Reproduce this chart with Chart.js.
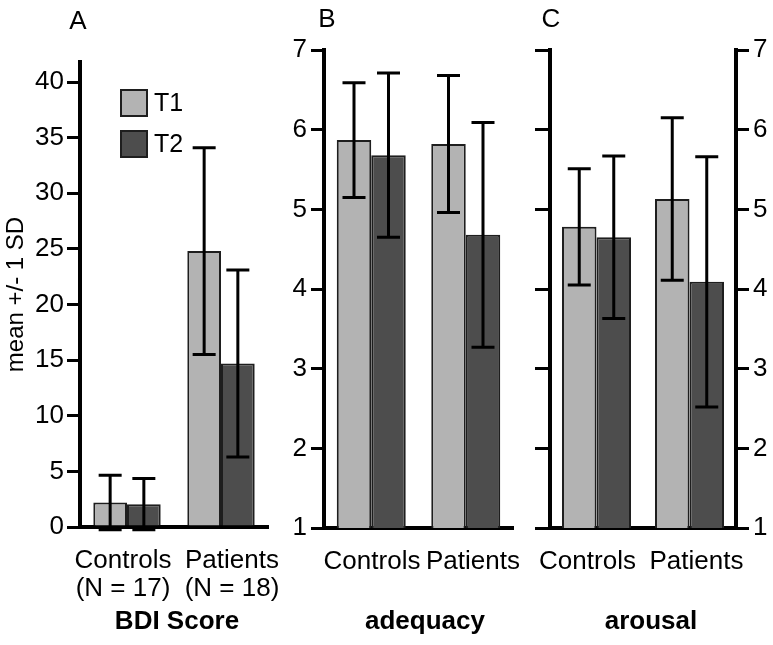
<!DOCTYPE html>
<html>
<head>
<meta charset="utf-8">
<script src="https://cdn.jsdelivr.net/npm/chart.js@4"></script>
<style>
  body { margin:0; background:#fff; width:773px; height:645px; position:relative; overflow:hidden; }
  canvas { position:absolute; top:0; }
</style>
</head>
<body>
<canvas id="chartA" width="282" height="645" style="left:0"></canvas>
<canvas id="chartB" width="258" height="645" style="left:282px"></canvas>
<canvas id="chartC" width="248" height="645" style="left:525px"></canvas>
<script>
// --- data ---
const seriesNames = ['T1', 'T2'];
const groupsBDI = [['Controls', '(N = 17)'], ['Patients', '(N = 18)']];
const groups = ['Controls', 'Patients'];

// BDI score, mean and SD
const bdiT1 = [2.2, 24.8];
const bdiT1Sd = [2.45, 9.3];
const bdiT2 = [2.05, 14.7];
const bdiT2Sd = [2.3, 8.4];

// adequacy
const adeqT1 = [5.87, 5.82];
const adeqT1Sd = [0.72, 0.86];
const adeqT2 = [5.68, 4.68];
const adeqT2Sd = [1.03, 1.41];

// arousal
const arouT1 = [4.78, 5.13];
const arouT1Sd = [0.73, 1.02];
const arouT2 = [4.65, 4.09];
const arouT2Sd = [1.02, 1.57];

const bdiRange = [0, 41.8], bdiStep = 5;
const ratingRange = [1, 7], ratingStep = 1;

// --- look ---
const FONT = "'Liberation Sans', Arial, Helvetica, sans-serif";
const colT1 = '#b3b3b3';
const colT2 = '#4d4d4d';
const edge = '#1e1e1e';
Chart.defaults.font.family = FONT;
Chart.defaults.color = '#000';

// error bars (+/- 1 SD) drawn through the y scale
const errorBars = {
  id: 'errorBars',
  afterDatasetsDraw(chart) {
    const ctx = chart.ctx, y = chart.scales.y;
    ctx.save();
    ctx.strokeStyle = '#000';
    ctx.lineWidth = 3;
    chart.data.datasets.forEach((ds, i) => {
      chart.getDatasetMeta(i).data.forEach((bar, j) => {
        const hi = y.getPixelForValue(ds.data[j] + ds.sd[j]);
        const lo = y.getPixelForValue(ds.data[j] - ds.sd[j]);
        const x = bar.x, w = 11.5;
        ctx.beginPath();
        ctx.moveTo(x, hi); ctx.lineTo(x, lo);
        ctx.moveTo(x - w, hi); ctx.lineTo(x + w, hi);
        ctx.moveTo(x - w, lo); ctx.lineTo(x + w, lo);
        ctx.stroke();
      });
    });
    ctx.restore();
  }
};

// panel letter, bold bottom title and (panel A) legend
const panelText = {
  id: 'panelText',
  afterDraw(chart, args, o) {
    const ctx = chart.ctx;
    ctx.save();
    ctx.fillStyle = '#000';
    ctx.textAlign = 'center';
    ctx.textBaseline = 'middle';
    ctx.font = `26px ${FONT}`;
    ctx.fillText(o.letter, o.letterX, o.letterY);
    ctx.font = `bold 26px ${FONT}`;
    ctx.fillText(o.title, o.titleX, o.titleY);
    if (o.legend) {
      ctx.font = `25px ${FONT}`;
      ctx.textAlign = 'left';
      chart.data.datasets.forEach((ds, i) => {
        const bx = o.legend.x, by = o.legend.y + i * 41;
        ctx.fillStyle = ds.backgroundColor;
        ctx.fillRect(bx, by, 26, 26);
        ctx.strokeStyle = edge; ctx.lineWidth = 2;
        ctx.strokeRect(bx, by, 26, 26);
        ctx.fillStyle = '#000';
        ctx.fillText(ds.label, bx + 33, by + 14);
      });
    }
    ctx.restore();
  }
};

function bars(t1, t1sd, t2, t2sd, pct) {
  const common = { borderColor: edge, borderWidth: 2, barPercentage: 1, categoryPercentage: pct };
  return [
    { label: seriesNames[0], data: t1, sd: t1sd, backgroundColor: colT1, ...common },
    { label: seriesNames[1], data: t2, sd: t2sd, backgroundColor: colT2, ...common }
  ];
}

const axisBorder = { color: '#000', width: 4 };
const tickGrid = { drawOnChartArea: false, drawTicks: true, tickLength: 13, color: '#000', lineWidth: 3 };

// category axis carrying the bars (labels hidden, border only)
function barAxis() {
  return {
    afterFit: s => { s.height = 0; s.paddingLeft = 0; s.paddingRight = 0; },
    border: axisBorder,
    grid: { display: false, drawTicks: false },
    ticks: { display: false }
  };
}

// group names sit a little wider apart than the bar groups in the original,
// so they go on their own bottom axis: index 0 / 1 placed at px0 / px1
function labelAxis(names, left, right, px0, px1, h, pad) {
  const unit = px1 - px0;
  return {
    type: 'linear',
    position: 'bottom',
    bounds: 'data',
    offset: false,
    min: (left - px0) / unit,
    max: (right - px0) / unit,
    afterBuildTicks: s => { s.ticks = names.map((n, i) => ({ value: i })); },
    afterFit: s => { s.height = h; s.paddingLeft = 0; s.paddingRight = 0; },
    border: { display: false },
    grid: { display: false, drawTicks: false },
    ticks: {
      autoSkip: false, maxRotation: 0, minRotation: 0,
      padding: pad, font: { size: 26, lineHeight: 1.08 },
      callback: v => names[Math.round(v)]
    }
  };
}

function baseOptions(top, padRight, text) {
  return {
    responsive: false,
    animation: false,
    events: [],
    layout: { padding: { top: top, right: padRight, bottom: 0, left: 0 } },
    plugins: { legend: { display: false }, tooltip: { enabled: false }, panelText: text }
  };
}

// ---- Panel A : BDI score ----
const optA = baseOptions(62, 14, { letter: 'A', letterX: 78, letterY: 22, title: 'BDI Score', titleX: 177, titleY: 622, legend: { x: 121, y: 90 } });
optA.scales = {
  x: barAxis(),
  xl: labelAxis(groupsBDI, 80, 268, 123, 232, 118, 20),
  y: {
    min: bdiRange[0], max: bdiRange[1],
    afterFit: s => { s.width = 80; },
    border: axisBorder,
    grid: tickGrid,
    ticks: { stepSize: bdiStep, includeBounds: false, padding: 3, font: { size: 26 } },
    title: { display: true, text: 'mean +/- 1 SD', font: { size: 24 }, padding: { top: 2, bottom: 0 } }
  }
};
new Chart(document.getElementById('chartA'), {
  type: 'bar',
  data: { labels: groups, datasets: bars(bdiT1, bdiT1Sd, bdiT2, bdiT2Sd, 0.717) },
  options: optA,
  plugins: [errorBars, panelText]
});

// ---- Panel B : adequacy ----
const optB = baseOptions(50, 27, { letter: 'B', letterX: 45, letterY: 20, title: 'adequacy', titleX: 143, titleY: 622 });
optB.scales = {
  x: barAxis(),
  xl: labelAxis(groups, 42, 231, 90, 191, 117, 20),
  y: {
    min: ratingRange[0], max: ratingRange[1],
    afterFit: s => { s.width = 42; },
    border: axisBorder,
    grid: tickGrid,
    ticks: { stepSize: ratingStep, padding: 4, font: { size: 26 } }
  }
};
new Chart(document.getElementById('chartB'), {
  type: 'bar',
  data: { labels: groups, datasets: bars(adeqT1, adeqT1Sd, adeqT2, adeqT2Sd, 0.73) },
  options: optB,
  plugins: [errorBars, panelText]
});

// ---- Panel C : arousal ----
const optC = baseOptions(50, 0, { letter: 'C', letterX: 26, letterY: 20, title: 'arousal', titleX: 126, titleY: 622 });
optC.scales = {
  x: barAxis(),
  xl: labelAxis(groups, 25, 211, 62.5, 171.5, 117, 20),
  y: {
    min: ratingRange[0], max: ratingRange[1],
    afterFit: s => { s.width = 25; },
    border: axisBorder,
    grid: { ...tickGrid, tickLength: 15 },
    ticks: { stepSize: ratingStep, callback: () => '', padding: 0 }
  },
  y2: {
    position: 'right',
    min: ratingRange[0], max: ratingRange[1],
    afterFit: s => { s.width = 37; },
    border: axisBorder,
    grid: tickGrid,
    ticks: { stepSize: ratingStep, padding: 4, font: { size: 26 } }
  }
};
new Chart(document.getElementById('chartC'), {
  type: 'bar',
  data: { labels: groups, datasets: bars(arouT1, arouT1Sd, arouT2, arouT2Sd, 0.742) },
  options: optC,
  plugins: [errorBars, panelText]
});
</script>
</body>
</html>
